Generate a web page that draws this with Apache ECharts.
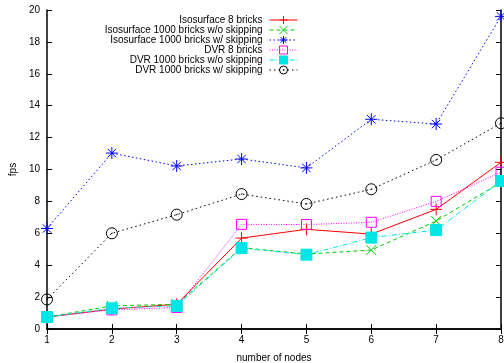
<!DOCTYPE html>
<html><head><meta charset="utf-8">
<script src="https://cdn.jsdelivr.net/npm/echarts@6/dist/echarts.min.js"></script>
<style>html,body{margin:0;padding:0;background:#fff}#c{width:504px;height:363px}</style>
</head><body><div id="c"></div>
<script>
var nodes = [1,2,3,4,5,6,7,8];
var isoBricks8 = [0.75,1.25,1.55,5.7,6.25,5.95,7.5,10.45];
var isoNoSkip = [0.75,1.45,1.55,5.1,4.7,4.95,6.77,9.2];
var isoSkip = [6.3,11.03,10.22,10.66,10.1,13.15,12.85,19.6];
var dvrBricks8 = [0.75,1.2,1.35,6.56,6.55,6.69,8.0,9.83];
var dvrNoSkip = [0.75,1.3,1.45,5.07,4.66,5.73,6.2,9.28];
var dvrSkip = [1.85,6.0,7.17,8.46,7.84,8.76,10.6,12.9];
var names = ['Isosurface 8 bricks','Isosurface 1000 bricks w/o skipping','Isosurface 1000 bricks w/ skipping','DVR 8 bricks','DVR 1000 bricks w/o skipping','DVR 1000 bricks w/ skipping'];

function pts(arr){ return nodes.map(function(n,i){return [n,arr[i]];}); }
var font = 'Liberation Sans, Arial, sans-serif';
var PLUS = 'path://M0,-1L0,1M-1,0L1,0';
var CROSS = 'path://M-1,-1L1,1M-1,1L1,-1';
var STAR = 'path://M0,-1L0,1M-1,0L1,0M-0.7,-0.7L0.7,0.7M-0.7,0.7L0.7,-0.7';
var CIRC = 'path://M1,0A1,1 0 1 1 -1,0A1,1 0 1 1 1,0ZM0.15,-0.05L-0.15,0.05';

function mk(name, data, color, type, symbol, size, fill){
  return {
    name:name, type:'line', data:pts(data), symbol:symbol, symbolSize:size,
    lineStyle:{color:color, width:1, type:type},
    itemStyle:{color: fill ? color : 'rgba(0,0,0,0)', borderColor:color, borderWidth:1},
    emphasis:{disabled:true}, animation:false, z: 2
  };
}
var series = [
  mk(names[0], isoBricks8, '#ff0000', 'solid', PLUS, 12, false),
  mk(names[1], isoNoSkip, '#00cc00', [4,3], CROSS, 10, false),
  mk(names[2], isoSkip, '#0000ff', [1.5,2.5], STAR, 12, false),
  mk(names[3], dvrBricks8, '#ff00ff', [1,1.5], 'rect', 10, false),
  mk(names[4], dvrNoSkip, '#00e5e5', [5,2,1,2], 'rect', 11, true),
  mk(names[5], dvrSkip, '#000000', [1.5,3], CIRC, 11, false)
];

var axisLine = {show:true, lineStyle:{color:'#000', width:1.5}};
var chart = echarts.init(document.getElementById('c'), null, {renderer:'canvas'});
chart.setOption({
  animation:false,
  backgroundColor:'#fff',
  grid:{left:47, right:3, top:10, bottom:34, show:false, containLabel:false, outerBoundsMode:'none'},
  legend:{
    data:names, orient:'vertical', right:206, top:15, align:'right', padding:0,
    itemWidth:28, itemHeight:10, itemGap:0,
    lineStyle:{width:1}, itemStyle:{borderWidth:1},
    textStyle:{fontFamily:font, fontSize:10, color:'#000', padding:[0,2,0,0]},
    selectedMode:false
  },
  xAxis:[{
    type:'value', min:1, max:8, interval:1,
    name:'number of nodes', nameLocation:'middle', nameGap:24,
    nameTextStyle:{fontFamily:font, fontSize:10, color:'#000'},
    axisLine:axisLine, axisTick:{inside:true, length:5, lineStyle:{color:'#000'}},
    axisLabel:{fontFamily:font, fontSize:10, color:'#000', margin:6},
    splitLine:{show:false}
  },{
    type:'value', min:1, max:8, interval:1, position:'top',
    axisLine:axisLine, axisTick:{inside:true, length:5, lineStyle:{color:'#000'}},
    axisLabel:{show:false}, splitLine:{show:false}
  }],
  yAxis:[{
    type:'value', min:0, max:20, interval:2,
    name:'fps', nameLocation:'middle', nameGap:29,
    nameTextStyle:{fontFamily:font, fontSize:10, color:'#000'},
    axisLine:axisLine, axisTick:{inside:true, length:5, lineStyle:{color:'#000'}},
    axisLabel:{fontFamily:font, fontSize:10, color:'#000', margin:7},
    splitLine:{show:false}
  },{
    type:'value', min:0, max:20, interval:2, position:'right',
    axisLine:axisLine, axisTick:{inside:true, length:5, lineStyle:{color:'#000'}},
    axisLabel:{show:false}, splitLine:{show:false}
  }],
  series:series
});
</script></body></html>
